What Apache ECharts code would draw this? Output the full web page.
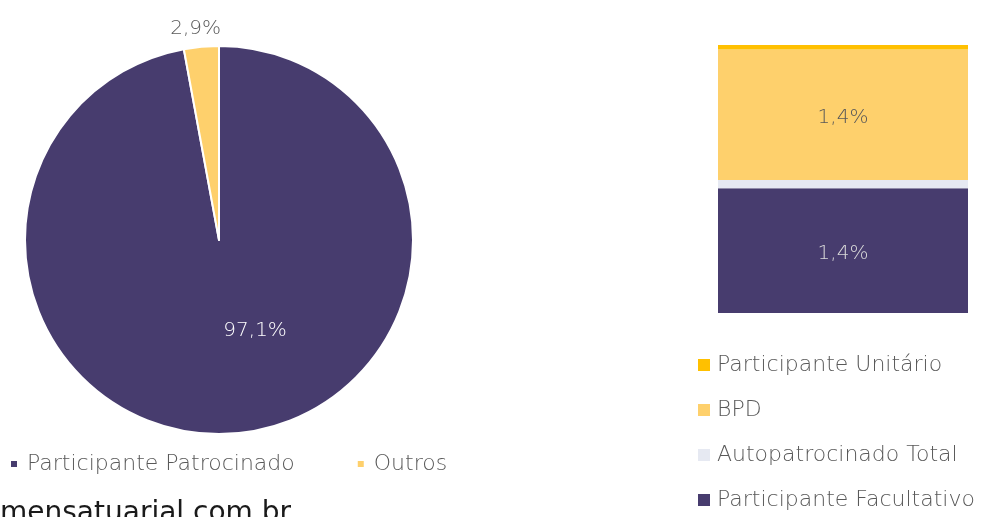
<!DOCTYPE html>
<html>
<head>
<meta charset="utf-8">
<script src="https://cdn.jsdelivr.net/npm/echarts@6/dist/echarts.min.js"></script>
<style>
  html, body { margin: 0; padding: 0; background: #fff; }
  #chart { width: 1001px; height: 517px; }
</style>
</head>
<body>
<div id="chart"></div>
<script>
// pie: total split
const pieNames = ['Participante Patrocinado', 'Outros'];
const pieValues = [97.1, 2.9];
const pieColors = ['#473C6E', '#FED06C'];

// stacked bar: breakdown of "Outros" (bottom to top)
const barNames = ['Participante Facultativo', 'Autopatrocinado Total', 'BPD', 'Participante Unitário'];
const barValues = [1.36, 0.09, 1.42, 0.05];
const barColors = ['#473C6E', '#E6E9F2', '#FED06C', '#FFC000'];
const barLabelShown = [true, false, true, false];
const barLabelColors = ['#D9D9D9', '#595959', '#595959', '#595959'];

const fmt = v => v.toFixed(1).replace('.', ',') + '%';
const font = '"DejaVu Sans", sans-serif';
const barTotal = barValues.reduce((a, b) => a + b, 0);

const chart = echarts.init(document.getElementById('chart'));

const option = {
  animation: false,
  textStyle: { fontFamily: font },
  legend: [
    {
      data: pieNames,
      orient: 'horizontal',
      left: 4,
      top: 448,
      itemWidth: 8,
      itemHeight: 8,
      itemGap: 61,
      icon: 'rect',
      textStyle: { fontSize: 22, color: '#595959', fontWeight: 200, fontFamily: font, padding: [0, 0, 0, 4] }
    },
    {
      data: barNames.slice().reverse(),
      orient: 'vertical',
      left: 693,
      top: 348,
      height: 169,
      itemWidth: 12,
      itemHeight: 12,
      itemGap: 21,
      icon: 'rect',
      textStyle: { fontSize: 22, lineHeight: 24, color: '#595959', fontWeight: 200, fontFamily: font, padding: [0, 0, 0, 2] }
    }
  ],
  grid: { left: 718, width: 250, top: 45, height: 268 },
  xAxis: { type: 'category', data: ['Outros'], show: false },
  yAxis: { type: 'value', min: 0, max: barTotal, show: false },
  series: [
    {
      type: 'pie',
      center: [219, 240],
      radius: 194,
      startAngle: 90,
      clockwise: true,
      itemStyle: { borderColor: '#fff', borderWidth: 2 },
      label: {
        fontSize: 20,
        fontWeight: 200,
        fontFamily: font,
        formatter: p => fmt(p.value)
      },
      labelLine: { show: false, length: 4, length2: 0 },
      labelLayout: p => p.dataIndex === 0 ? { dx: 27, dy: -9 } : { dx: 25, dy: -14 },
      data: pieNames.map((n, i) => ({
        name: n,
        value: pieValues[i],
        itemStyle: { color: pieColors[i] },
        label: i === 0
          ? { position: 'inside', color: '#FFFFFF' }
          : { position: 'outside', color: '#595959' }
      }))
    },
    ...barNames.map((n, i) => ({
      type: 'bar',
      name: n,
      stack: 'outros',
      barWidth: '100%',
      itemStyle: { color: barColors[i] },
      label: {
        show: barLabelShown[i],
        position: 'inside',
        offset: [0, 3],
        fontSize: 20,
        fontWeight: 200,
        fontFamily: font,
        color: barLabelColors[i],
        formatter: p => fmt(p.value)
      },
      data: [barValues[i]]
    }))
  ],
  graphic: [
    {
      type: 'text',
      left: 0,
      top: 500,
      style: { text: 'mensatuarial.com.br', fontSize: 28, fill: '#1A1A1A', fontFamily: font }
    }
  ]
};

chart.setOption(option);
window.addEventListener('resize', () => chart.resize());
</script>
</body>
</html>
